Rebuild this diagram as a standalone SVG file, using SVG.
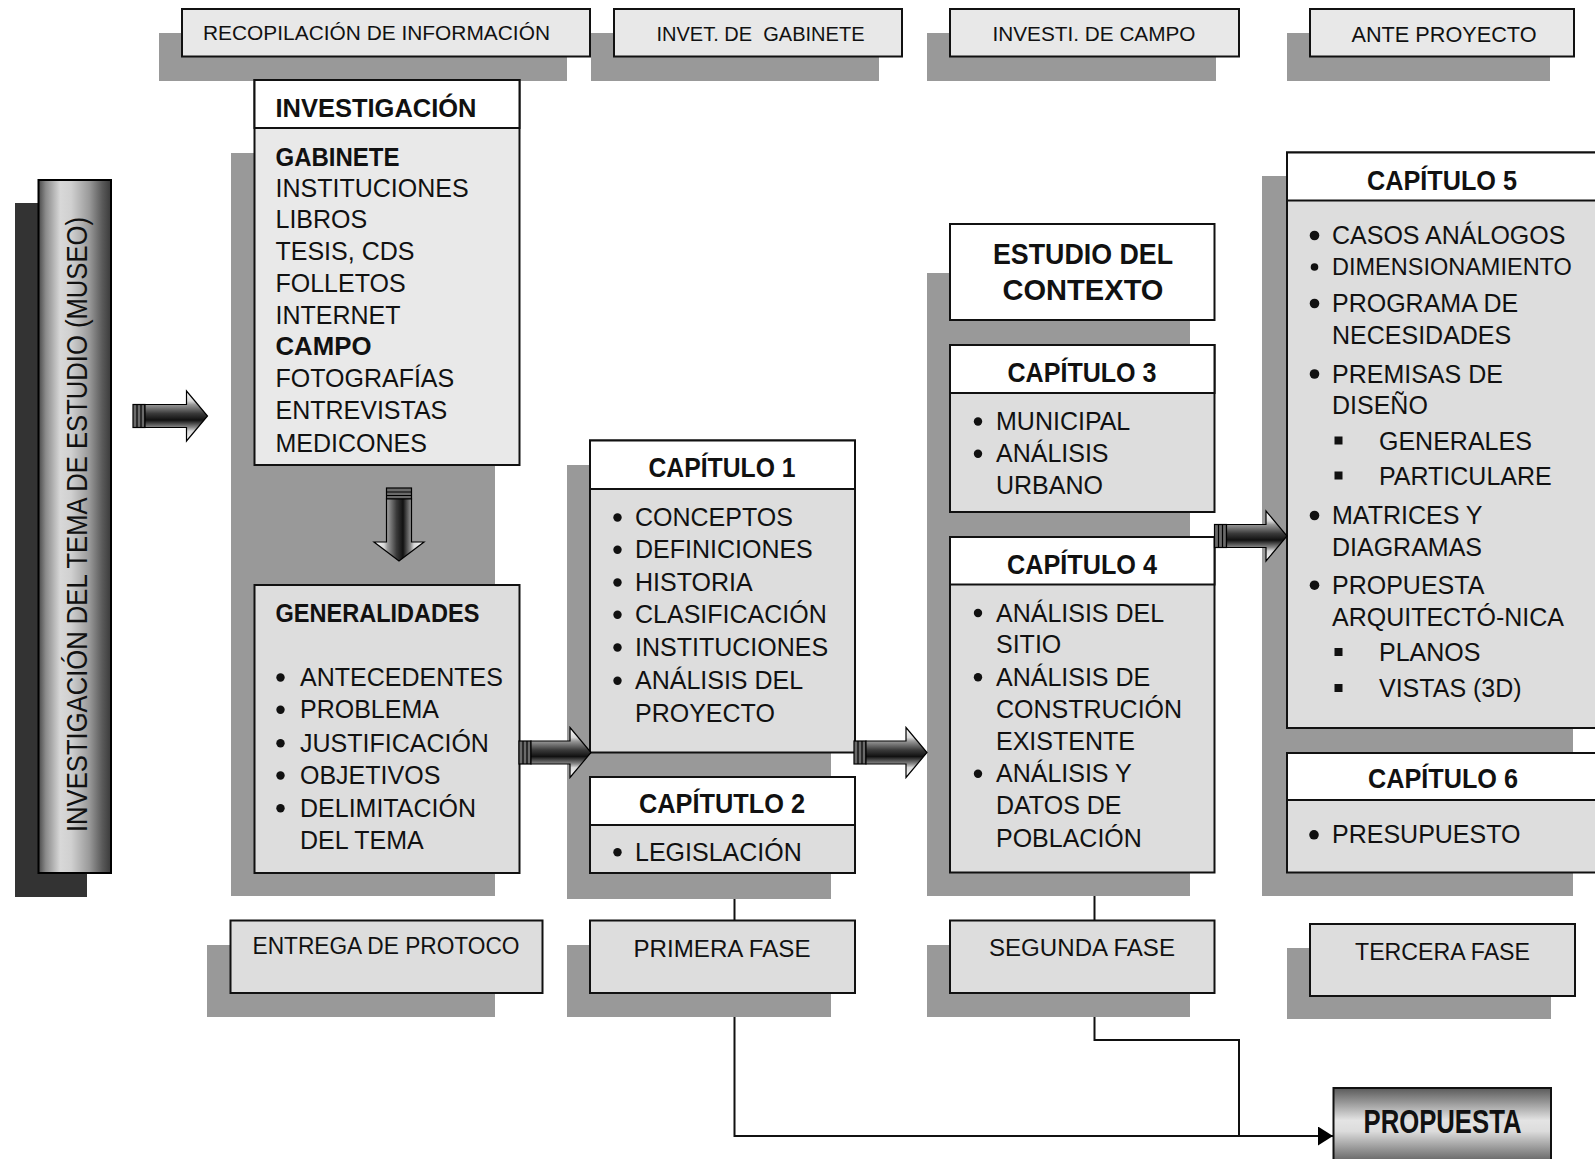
<svg xmlns="http://www.w3.org/2000/svg" width="1595" height="1159" viewBox="0 0 1595 1159" font-size="25">
<defs>
<linearGradient id="gArrowH" x1="0" y1="0" x2="0" y2="1">
<stop offset="0" stop-color="#ffffff"/><stop offset="0.2" stop-color="#d8d8d8"/><stop offset="0.27" stop-color="#9a9a9a"/><stop offset="0.45" stop-color="#3a3a3a"/><stop offset="0.58" stop-color="#111111"/><stop offset="0.73" stop-color="#8a8a8a"/><stop offset="0.8" stop-color="#d8d8d8"/><stop offset="1" stop-color="#ffffff"/>
</linearGradient>
<linearGradient id="gArrowV" x1="0" y1="0" x2="1" y2="0">
<stop offset="0" stop-color="#ffffff"/><stop offset="0.2" stop-color="#d8d8d8"/><stop offset="0.27" stop-color="#9a9a9a"/><stop offset="0.45" stop-color="#3a3a3a"/><stop offset="0.58" stop-color="#111111"/><stop offset="0.73" stop-color="#8a8a8a"/><stop offset="0.8" stop-color="#d8d8d8"/><stop offset="1" stop-color="#ffffff"/>
</linearGradient>
<linearGradient id="gBar" x1="0" y1="0" x2="1" y2="0">
<stop offset="0" stop-color="#4a4a4a"/><stop offset="0.1" stop-color="#8a8a8a"/><stop offset="0.3" stop-color="#d8d8d8"/><stop offset="0.45" stop-color="#d0d0d0"/><stop offset="0.7" stop-color="#9a9a9a"/><stop offset="0.88" stop-color="#5a5a5a"/><stop offset="1" stop-color="#3a3a3a"/>
</linearGradient>
<linearGradient id="gProp" gradientUnits="userSpaceOnUse" x1="0" y1="1088" x2="0" y2="1160">
<stop offset="0" stop-color="#5a5a5a"/><stop offset="0.45" stop-color="#e4e4e4"/><stop offset="0.6" stop-color="#dcdcdc"/><stop offset="1" stop-color="#6a6a6a"/>
</linearGradient>
<marker id="tri" markerUnits="userSpaceOnUse" markerWidth="16" markerHeight="20" refX="15" refY="9.5" orient="auto">
<path d="M0,0 L15,9.5 L0,19 Z" fill="#000"/>
</marker>
<style>
.sh{fill:#999999}
.box{stroke:#111;stroke-width:2}
.hd{fill:#ffffff}
.bd{fill:#dddddd}
.lt{fill:#e8e8e8}
.t{font-family:"Liberation Sans",Arial,sans-serif;fill:#111}
.b{font-weight:bold}
.c{text-anchor:middle}
.ln{stroke:#111;stroke-width:2;fill:none}
.arw{stroke:#000;stroke-width:1.2}
.cap{fill:#6a6a6a;stroke:#000;stroke-width:1.2}
.bul{fill:#111}
</style>
</defs>
<rect x="0" y="0" width="1595" height="1159" fill="#ffffff"/>

<g id="panels">
<rect class="sh" x="231" y="153" width="264" height="743"/>
<rect class="sh" x="567" y="465" width="264" height="434"/>
<rect class="sh" x="927" y="273" width="263" height="623"/>
<rect class="sh" x="1262" y="176" width="311" height="720"/>
</g>

<g id="top-recopilacion">
<rect class="sh" x="159" y="33" width="408" height="48"/>
<rect class="box lt" x="182" y="9" width="408" height="47.5"/>
<text class="t c" x="376.5" y="40" font-size="20" textLength="347" lengthAdjust="spacingAndGlyphs">RECOPILACIÓN DE INFORMACIÓN</text>
</g>
<g id="top-gabinete">
<rect class="sh" x="591" y="33" width="288" height="48"/>
<rect class="box lt" x="614" y="9" width="288" height="47.5"/>
<text class="t c" x="760.5" y="40.5" font-size="20" textLength="208" lengthAdjust="spacingAndGlyphs">INVET. DE&#160; GABINETE</text>
</g>
<g id="top-campo">
<rect class="sh" x="927" y="33" width="289" height="48"/>
<rect class="box lt" x="950" y="9" width="289" height="47.5"/>
<text class="t c" x="1094" y="40.5" font-size="20" textLength="203" lengthAdjust="spacingAndGlyphs">INVESTI. DE CAMPO</text>
</g>
<g id="top-anteproyecto">
<rect class="sh" x="1287" y="33" width="263" height="48"/>
<rect class="box lt" x="1310" y="9" width="264" height="47.5"/>
<text class="t c" x="1444" y="42" font-size="22" textLength="185" lengthAdjust="spacingAndGlyphs">ANTE PROYECTO</text>
</g>

<g id="tema">
<rect x="15" y="203" width="72" height="694" fill="#333333"/>
<rect x="38.5" y="180" width="72.5" height="693" fill="url(#gBar)" stroke="#000" stroke-width="2"/>
<text class="t c" transform="translate(87,524.5) rotate(-90)" x="0" y="0" font-size="30" textLength="615" lengthAdjust="spacingAndGlyphs">INVESTIGACIÓN DEL TEMA DE ESTUDIO (MUSEO)</text>
</g>

<g id="investigacion">
<rect class="box" fill="#e9e9e9" x="254.5" y="80" width="265" height="385"/>
<rect class="box hd" x="254.5" y="80" width="265" height="48"/>
<text class="t b" x="275.5" y="116.7" font-size="25" textLength="201" lengthAdjust="spacingAndGlyphs">INVESTIGACIÓN</text>
<text class="t b" x="275.5" y="165.7" font-size="25" textLength="124" lengthAdjust="spacingAndGlyphs">GABINETE</text>
<text class="t" x="275.5" y="196.7">INSTITUCIONES</text>
<text class="t" x="275.5" y="228.3">LIBROS</text>
<text class="t" x="275.5" y="260">TESIS, CDS</text>
<text class="t" x="275.5" y="291.7">FOLLETOS</text>
<text class="t" x="275.5" y="324">INTERNET</text>
<text class="t b" x="275.5" y="355" font-size="25" textLength="96" lengthAdjust="spacingAndGlyphs">CAMPO</text>
<text class="t" x="275.5" y="386.7">FOTOGRAFÍAS</text>
<text class="t" x="275.5" y="419.3">ENTREVISTAS</text>
<text class="t" x="275.5" y="451.7">MEDICONES</text>
</g>

<g id="generalidades">
<rect class="box bd" x="254.5" y="585" width="265" height="288"/>
<text class="t b" x="275.5" y="621.7" font-size="26" textLength="204" lengthAdjust="spacingAndGlyphs">GENERALIDADES</text>
<circle class="bul" cx="280.5" cy="677.5" r="4.2"/><text class="t" x="300" y="686">ANTECEDENTES</text>
<circle class="bul" cx="280.5" cy="709.8" r="4.2"/><text class="t" x="300" y="718.3">PROBLEMA</text>
<circle class="bul" cx="280.5" cy="743.2" r="4.2"/><text class="t" x="300" y="751.7">JUSTIFICACIÓN</text>
<circle class="bul" cx="280.5" cy="775.5" r="4.2"/><text class="t" x="300" y="784">OBJETIVOS</text>
<circle class="bul" cx="280.5" cy="808.2" r="4.2"/><text class="t" x="300" y="816.7">DELIMITACIÓN</text>
<text class="t" x="300" y="849.3">DEL TEMA</text>
</g>

<g id="capitulo1">
<rect class="box bd" x="590" y="440.5" width="265" height="312"/>
<rect class="box hd" x="590" y="440.5" width="265" height="48.5"/>
<text class="t b c" x="722" y="477.3" font-size="27" textLength="147" lengthAdjust="spacingAndGlyphs">CAPÍTULO 1</text>
<circle class="bul" cx="617.5" cy="517.5" r="4.2"/><text class="t" x="635" y="526">CONCEPTOS</text>
<circle class="bul" cx="617.5" cy="549.8" r="4.2"/><text class="t" x="635" y="558.3">DEFINICIONES</text>
<circle class="bul" cx="617.5" cy="582.5" r="4.2"/><text class="t" x="635" y="591">HISTORIA</text>
<circle class="bul" cx="617.5" cy="614.8" r="4.2"/><text class="t" x="635" y="623.3">CLASIFICACIÓN</text>
<circle class="bul" cx="617.5" cy="647.5" r="4.2"/><text class="t" x="635" y="656">INSTITUCIONES</text>
<circle class="bul" cx="617.5" cy="680.8" r="4.2"/><text class="t" x="635" y="689.3">ANÁLISIS DEL</text>
<text class="t" x="635" y="721.7">PROYECTO</text>
</g>

<g id="capitulo2">
<rect class="box bd" x="590" y="777" width="265" height="96"/>
<rect class="box hd" x="590" y="777" width="265" height="48"/>
<text class="t b c" x="722" y="813.3" font-size="27" textLength="166" lengthAdjust="spacingAndGlyphs">CAPÍTUTLO 2</text>
<circle class="bul" cx="617.5" cy="852.2" r="4.2"/><text class="t" x="635" y="860.7">LEGISLACIÓN</text>
</g>

<g id="estudio-contexto">
<rect class="box hd" x="950" y="224" width="264.5" height="96"/>
<text class="t b c" x="1083" y="263.5" font-size="30" textLength="180" lengthAdjust="spacingAndGlyphs">ESTUDIO DEL</text>
<text class="t b c" x="1083" y="299.5" font-size="30" textLength="161" lengthAdjust="spacingAndGlyphs">CONTEXTO</text>
</g>

<g id="capitulo3">
<rect class="box bd" x="950" y="345" width="264.5" height="167"/>
<rect class="box hd" x="950" y="345" width="264.5" height="48"/>
<text class="t b c" x="1082" y="382" font-size="27" textLength="149" lengthAdjust="spacingAndGlyphs">CAPÍTULO 3</text>
<circle class="bul" cx="978" cy="421.5" r="4.2"/><text class="t" x="996" y="430">MUNICIPAL</text>
<circle class="bul" cx="978" cy="453.8" r="4.2"/><text class="t" x="996" y="462.3">ANÁLISIS</text>
<text class="t" x="996" y="493.5">URBANO</text>
</g>

<g id="capitulo4">
<rect class="box bd" x="950" y="537" width="264.5" height="335.5"/>
<rect class="box hd" x="950" y="537" width="264.5" height="47.5"/>
<text class="t b c" x="1082" y="573.5" font-size="27" textLength="150" lengthAdjust="spacingAndGlyphs">CAPÍTULO 4</text>
<circle class="bul" cx="978" cy="613" r="4.2"/><text class="t" x="996" y="621.5">ANÁLISIS DEL</text>
<text class="t" x="996" y="652.7">SITIO</text>
<circle class="bul" cx="978" cy="677.2" r="4.2"/><text class="t" x="996" y="685.7">ANÁLISIS DE</text>
<text class="t" x="996" y="717.7">CONSTRUCIÓN</text>
<text class="t" x="996" y="749.5">EXISTENTE</text>
<circle class="bul" cx="978" cy="773.8" r="4.2"/><text class="t" x="996" y="782.3">ANÁLISIS Y</text>
<text class="t" x="996" y="814.2">DATOS DE</text>
<text class="t" x="996" y="847.3">POBLACIÓN</text>
</g>

<g id="capitulo5">
<rect class="box bd" x="1287" y="152.5" width="320" height="575.5"/>
<rect class="box hd" x="1287" y="152.5" width="320" height="48"/>
<text class="t b c" x="1442" y="190" font-size="27" textLength="150" lengthAdjust="spacingAndGlyphs">CAPÍTULO 5</text>
<circle class="bul" cx="1314.5" cy="235.5" r="4.8"/><text class="t" x="1332" y="244">CASOS ANÁLOGOS</text>
<circle class="bul" cx="1314.5" cy="267" r="3.8"/><text class="t" x="1332" y="275" font-size="23.5">DIMENSIONAMIENTO</text>
<circle class="bul" cx="1314.5" cy="303.5" r="4.8"/><text class="t" x="1332" y="312">PROGRAMA DE</text>
<text class="t" x="1332" y="343.5">NECESIDADES</text>
<circle class="bul" cx="1314.5" cy="374" r="4.8"/><text class="t" x="1332" y="382.5">PREMISAS DE</text>
<text class="t" x="1332" y="414">DISEÑO</text>
<rect class="bul" x="1334.5" y="436.5" width="8" height="8"/><text class="t" x="1379" y="449.5">GENERALES</text>
<rect class="bul" x="1334.5" y="471.5" width="8" height="8"/><text class="t" x="1379" y="484.5">PARTICULARE</text>
<circle class="bul" cx="1314.5" cy="515.5" r="4.8"/><text class="t" x="1332" y="524">MATRICES Y</text>
<text class="t" x="1332" y="555.7">DIAGRAMAS</text>
<circle class="bul" cx="1314.5" cy="585.2" r="4.8"/><text class="t" x="1332" y="593.7">PROPUESTA</text>
<text class="t" x="1332" y="625.5">ARQUITECTÓ-NICA</text>
<rect class="bul" x="1334.5" y="648" width="8" height="8"/><text class="t" x="1379" y="661">PLANOS</text>
<rect class="bul" x="1334.5" y="684" width="8" height="8"/><text class="t" x="1379" y="697">VISTAS (3D)</text>
</g>

<g id="capitulo6">
<rect class="box bd" x="1287" y="753" width="320" height="119.5"/>
<rect class="box hd" x="1287" y="753" width="320" height="47"/>
<text class="t b c" x="1443" y="788.3" font-size="27" textLength="150" lengthAdjust="spacingAndGlyphs">CAPÍTULO 6</text>
<circle class="bul" cx="1314" cy="834.8" r="4.8"/><text class="t" x="1332" y="843.3">PRESUPUESTO</text>
</g>

<g id="entrega-protocolo">
<rect class="sh" x="207" y="945" width="288" height="72"/>
<rect class="box bd" x="230.5" y="920.5" width="312" height="72.5"/>
<text class="t c" x="386" y="953.5" font-size="23" textLength="267" lengthAdjust="spacingAndGlyphs">ENTREGA DE PROTOCO</text>
</g>
<g id="primera-fase">
<rect class="sh" x="567" y="945" width="264" height="72"/>
<rect class="box bd" x="590" y="920.5" width="265" height="72.5"/>
<text class="t c" x="722" y="956.5" font-size="23" textLength="177" lengthAdjust="spacingAndGlyphs">PRIMERA FASE</text>
</g>
<g id="segunda-fase">
<rect class="sh" x="927" y="945" width="263" height="72"/>
<rect class="box bd" x="950" y="920.5" width="264.5" height="72.5"/>
<text class="t c" x="1082" y="956" font-size="23" textLength="186" lengthAdjust="spacingAndGlyphs">SEGUNDA FASE</text>
</g>
<g id="tercera-fase">
<rect class="sh" x="1287" y="948" width="264" height="71"/>
<rect class="box bd" x="1310" y="924" width="265" height="72"/>
<text class="t c" x="1442.5" y="959.5" font-size="23" textLength="175" lengthAdjust="spacingAndGlyphs">TERCERA FASE</text>
</g>
<g id="propuesta">
<rect class="box" fill="url(#gProp)" x="1333.5" y="1088" width="217.5" height="90"/>
<text class="t b c" x="1442.5" y="1133" font-size="34" textLength="158" lengthAdjust="spacingAndGlyphs">PROPUESTA</text>
</g>

<g id="connectors">
<rect class="cap" x="133" y="404.5" width="12" height="23"/><path class="cap" d="M137 404.5V427.5M141 404.5V427.5" fill="none"/>
<path class="arw" fill="url(#gArrowH)" d="M145 404.5H186.5V391L207.5 416L186.5 441V427.5H145Z"/>
<rect class="cap" x="386.5" y="488" width="25" height="11"/><path class="cap" d="M386.5 492H411.5M386.5 495.5H411.5" fill="none"/>
<path class="arw" fill="url(#gArrowV)" d="M386.5 499V542H374L399 561L424 542H411.5V499Z"/>
<rect class="cap" x="519" y="741" width="12" height="23"/><path class="cap" d="M523 741V764M527 741V764" fill="none"/>
<path class="arw" fill="url(#gArrowH)" d="M531 741H570V727.5L591 752.5L570 777.5V764H531Z"/>
<rect class="cap" x="854" y="741" width="12" height="23"/><path class="cap" d="M858 741V764M862 741V764" fill="none"/>
<path class="arw" fill="url(#gArrowH)" d="M866 741H906V727.5L927 752.5L906 777.5V764H866Z"/>
<rect class="cap" x="1214.5" y="524.5" width="12" height="23"/><path class="cap" d="M1218.5 524.5V547.5M1222.5 524.5V547.5" fill="none"/>
<path class="arw" fill="url(#gArrowH)" d="M1226.5 524.5H1266V511L1287 536L1266 561V547.5H1226.5Z"/>
<path class="ln" d="M734.5 899V920.5"/>
<path class="ln" d="M1094.5 896V920.5"/>
<path class="ln" d="M1094.5 1017V1040H1239V1136"/>
<path class="ln" d="M734.5 1017V1136H1333" marker-end="url(#tri)"/>
</g>
</svg>
